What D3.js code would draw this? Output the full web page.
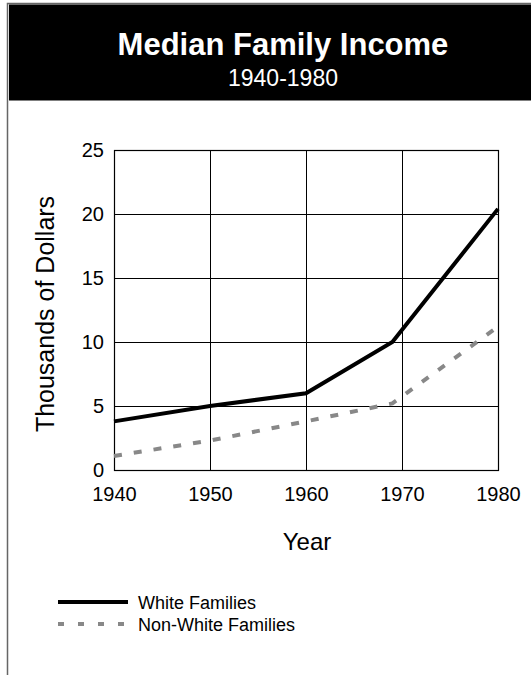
<!DOCTYPE html>
<html>
<head>
<meta charset="utf-8">
<script src="https://cdn.jsdelivr.net/npm/d3@7"></script>
<style>
  body { margin: 0; background: #fff; }
  svg { display: block; font-family: "Liberation Sans", Arial, Helvetica, sans-serif; }
</style>
</head>
<body>
<div id="chart"></div>
<script>
// data
var years = [1940, 1950, 1960, 1969, 1980];
var whiteIncome = [3.8, 5.0, 6.0, 10.0, 20.4];
var nonWhiteIncome = [1.1, 2.3, 3.8, 5.2, 11.2];
var xTicks = [1940, 1950, 1960, 1970, 1980];
var yTicks = [0, 5, 10, 15, 20, 25];
var seriesNames = ["White Families", "Non-White Families"];

var attrs = {
  svgWidth: 531,
  svgHeight: 675,
  plotLeft: 114,
  plotRight: 498,
  plotTop: 150,
  plotBottom: 470,
  fontFamily: '"Liberation Sans", Arial, Helvetica, sans-serif'
};

var svg = d3.select("#chart").append("svg")
  .attr("width", attrs.svgWidth)
  .attr("height", attrs.svgHeight);

// frame + header
svg.append("path")
  .attr("d", "M7.5," + attrs.svgHeight + " V3.5 H" + attrs.svgWidth)
  .attr("fill", "none")
  .attr("stroke", "#666")
  .attr("stroke-width", 1.5);

svg.append("rect")
  .attr("x", 9).attr("y", 4.5)
  .attr("width", attrs.svgWidth - 9).attr("height", 96)
  .attr("fill", "#000");

svg.append("text")
  .attr("x", 283).attr("y", 55)
  .attr("text-anchor", "middle")
  .attr("fill", "#fff")
  .attr("font-size", 31)
  .attr("font-weight", "bold")
  .text("Median Family Income");

svg.append("text")
  .attr("x", 283).attr("y", 86)
  .attr("text-anchor", "middle")
  .attr("fill", "#fff")
  .attr("font-size", 23)
  .text("1940-1980");

// scales
var x = d3.scaleLinear().domain([1940, 1980]).range([attrs.plotLeft, attrs.plotRight]);
var y = d3.scaleLinear().domain([0, 25]).range([attrs.plotBottom, attrs.plotTop]);
var w = attrs.plotRight - attrs.plotLeft;
var h = attrs.plotBottom - attrs.plotTop;

// axes with gridlines
var xAxis = svg.append("g")
  .attr("transform", "translate(0," + attrs.plotBottom + ")")
  .call(d3.axisBottom(x).tickValues(xTicks).tickFormat(d3.format("d")).tickSize(-h).tickPadding(17));

var yAxis = svg.append("g")
  .attr("transform", "translate(" + attrs.plotLeft + ",0)")
  .call(d3.axisLeft(y).tickValues(yTicks).tickSize(-w).tickPadding(10));

[xAxis, yAxis].forEach(function (a) {
  a.select(".domain").remove();
  a.selectAll("line").attr("stroke", "#000").attr("stroke-width", 1);
  a.selectAll("text")
    .attr("fill", "#000")
    .attr("font-size", 20)
    .attr("font-family", attrs.fontFamily);
});

// plot border
svg.append("rect")
  .attr("x", attrs.plotLeft + 0.5).attr("y", attrs.plotTop + 0.5)
  .attr("width", w).attr("height", h)
  .attr("fill", "none")
  .attr("stroke", "#000")
  .attr("stroke-width", 1.2);

// axis titles
svg.append("text")
  .attr("x", 307).attr("y", 550)
  .attr("text-anchor", "middle")
  .attr("font-size", 24)
  .text("Year");

svg.append("text")
  .attr("transform", "translate(54,314) rotate(-90)")
  .attr("text-anchor", "middle")
  .attr("font-size", 25)
  .text("Thousands of Dollars");

// lines
var line = d3.line()
  .x(function (d) { return x(d[0]); })
  .y(function (d) { return y(d[1]); });

svg.append("path")
  .datum(years.map(function (yr, i) { return [yr, nonWhiteIncome[i]]; }))
  .attr("d", line)
  .attr("fill", "none")
  .attr("stroke", "#888")
  .attr("stroke-width", 4)
  .attr("stroke-dasharray", "8,12");

svg.append("path")
  .datum(years.map(function (yr, i) { return [yr, whiteIncome[i]]; }))
  .attr("d", line)
  .attr("fill", "none")
  .attr("stroke", "#000")
  .attr("stroke-width", 4);

// legend
var legend = svg.append("g").attr("transform", "translate(58,602)");
var legendStyles = [
  { stroke: "#000", width: 4, dash: null },
  { stroke: "#888", width: 4, dash: "6,14" }
];
seriesNames.forEach(function (name, i) {
  var g = legend.append("g").attr("transform", "translate(0," + (i * 22) + ")");
  g.append("line")
    .attr("x1", 0).attr("x2", 70)
    .attr("y1", 0).attr("y2", 0)
    .attr("stroke", legendStyles[i].stroke)
    .attr("stroke-width", legendStyles[i].width)
    .attr("stroke-dasharray", legendStyles[i].dash);
  g.append("text")
    .attr("x", 80).attr("y", 6.5)
    .attr("font-size", 18)
    .text(name);
});
</script>
</body>
</html>
